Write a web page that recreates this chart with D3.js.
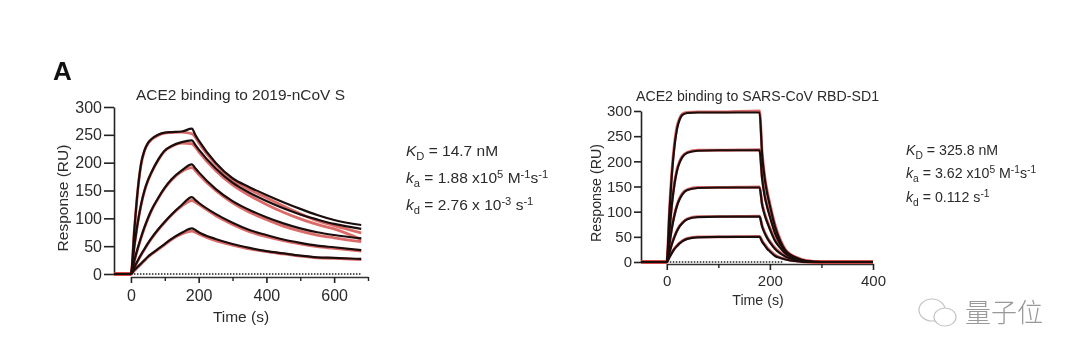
<!DOCTYPE html>
<html>
<head>
<meta charset="utf-8">
<script src="https://cdnjs.cloudflare.com/ajax/libs/d3/7.8.5/d3.min.js"></script>
<style>
  html, body { margin: 0; padding: 0; background: #fff; }
  svg { display: block; filter: blur(0.45px); }
  text { font-family: "Liberation Sans", Arial, sans-serif; fill: #2b2b2b; }
</style>
</head>
<body>
<svg id="chart" width="1080" height="359"></svg>
<script>
let width = 1080;
let height = 359;

// 2019-nCoV S panel
const sTimes = [-50, 0, 10, 20, 30, 40, 50, 60, 80, 100, 120, 150, 180, 190, 200, 250, 300, 350, 400, 450, 500, 550, 600, 680];
const sFit = [
  [0, 0, 79, 150, 198, 222, 235, 242, 250, 254, 255, 256, 261, 250, 240, 200, 172, 156, 142, 129, 117, 106, 97, 88],
  [0, 0, 50, 92, 125, 150, 168, 182, 205, 222, 230, 237, 240, 232, 224, 190, 164, 146, 131, 118, 107, 98, 90, 81],
  [0, 0, 24, 46, 66, 84, 100, 114, 136, 155, 170, 186, 197, 190, 183, 153, 131, 115, 102, 91, 82, 75, 70, 64],
  [0, 0, 12, 24, 35, 45, 55, 64, 80, 94, 107, 124, 138, 133, 128, 108, 92, 79, 70, 62, 56, 51, 48, 43],
  [0, 0, 7, 13, 19, 25, 31, 36, 45, 54, 63, 74, 82, 79, 75, 63, 54, 47, 41, 37, 33, 30, 29, 27],
];
const sObserved = [
  [0, 0, 78, 149, 197, 221, 234, 241, 249, 253, 254, 255, 252, 246, 236, 197, 169, 152, 137, 122, 108, 96, 87, 74],
  [0, 0, 49, 91, 124, 149, 167, 181, 204, 221, 229, 235, 234, 228, 220, 186, 160, 141, 125, 111, 99, 89, 81, 62],
  [0, 0, 23, 45, 65, 83, 99, 113, 135, 154, 169, 184, 191, 186, 179, 150, 128, 111, 98, 86, 77, 70, 65, 58],
  [0, 0, 11, 23, 34, 44, 54, 63, 79, 93, 106, 122, 132, 129, 125, 105, 89, 76, 67, 60, 54, 49, 46, 41],
  [0, 0, 6, 12, 18, 24, 30, 35, 44, 53, 62, 72, 77, 75, 72, 60, 52, 45, 40, 36, 32, 29, 28, 26],
];

// SARS-CoV RBD-SD1 panel
const rbdTimes = [-50, 0, 5, 10, 15, 20, 25, 30, 40, 60, 100, 180, 185, 190, 195, 200, 210, 220, 230, 240, 250, 270, 300, 400];
const rbdFit = [
  [0, 0, 95, 175, 230, 265, 283, 292, 296, 297, 297, 297, 212, 165, 135, 112, 70, 42, 23, 14, 9, 2, 0, 0],
  [0, 0, 60, 115, 155, 182, 198, 208, 217, 221, 222, 222, 165, 130, 108, 90, 57, 36, 21, 13, 8, 2, 0, 0],
  [0, 0, 35, 68, 93, 112, 125, 134, 143, 147, 148, 148, 113, 93, 78, 65, 42, 28, 17, 11, 7, 1, 0, 0],
  [0, 0, 18, 36, 50, 62, 71, 77, 85, 89, 90, 90, 70, 57, 47, 39, 26, 17, 11, 7, 4, 1, 0, 0],
  [0, 0, 9, 18, 26, 32, 37, 41, 46, 49, 50, 50, 40, 33, 26, 21, 12, 8, 5, 3, 2, 0, 0, 0],
];
const rbdObserved = [
  [0, 0, 100, 182, 236, 270, 286, 294, 297, 298, 298, 300, 218, 170, 140, 116, 74, 45, 25, 15, 10, 3, 0, 0],
  [0, 0, 62, 118, 158, 185, 200, 210, 218, 222, 222, 223, 168, 134, 112, 93, 60, 38, 23, 14, 9, 2, 0, 0],
  [0, 0, 36, 70, 95, 114, 127, 136, 144, 148, 148, 149, 116, 96, 81, 68, 45, 30, 19, 12, 8, 1, 0, 0],
  [0, 0, 19, 37, 51, 63, 72, 78, 86, 90, 90, 91, 72, 59, 49, 41, 28, 19, 12, 8, 4, 1, 0, 0],
  [0, 0, 10, 19, 27, 33, 38, 42, 47, 50, 50, 51, 42, 35, 28, 23, 14, 9, 6, 3, 2, 0, 0, 0],
];

const yTicks = [0, 50, 100, 150, 200, 250, 300];
const sMajorTicks = [0, 200, 400, 600];
const sMinorTicks = [100, 300, 500, 700];
const rbdMajorTicks = [0, 200, 400];
const rbdMinorTicks = [100, 300];

const sParams = [
  [["K", "i"], ["D", "sub"], [" = 14.7 nM", ""]],
  [["k", "i"], ["a", "sub"], [" = 1.88 x10", ""], ["5", "sup"], [" M", ""], ["-1", "sup"], ["s", ""], ["-1", "sup"]],
  [["k", "i"], ["d", "sub"], [" = 2.76 x 10", ""], ["-3", "sup"], [" s", ""], ["-1", "sup"]],
];
const rbdParams = [
  [["K", "i"], ["D", "sub"], [" = 325.8 nM", ""]],
  [["k", "i"], ["a", "sub"], [" = 3.62 x10", ""], ["5", "sup"], [" M", ""], ["-1", "sup"], ["s", ""], ["-1", "sup"]],
  [["k", "i"], ["d", "sub"], [" = 0.112 s", ""], ["-1", "sup"]],
];

let svg = d3.select("svg#chart");

svg.append("rect").attr("width", width).attr("height", height).attr("fill", "#fff");

svg
  .append("text")
  .attr("x", 53)
  .attr("y", 80)
  .style("font-size", "26px")
  .style("font-weight", "bold")
  .style("fill", "#111")
  .text("A");

drawPanel({
  times: sTimes,
  fit: sFit,
  observed: sObserved,
  xDomain: [-50, 700],
  xRange: [114, 368],
  yRange: [274, 107],
  majorTicks: sMajorTicks,
  minorTicks: sMinorTicks,
  tickFont: 16,
  labelFont: 15.5,
  yTickSize: 10,
  axisGap: 3,
  xPadding: 7,
  title: "ACE2 binding to 2019-nCoV S",
  titleFont: 15,
  titleX: 136,
  titleY: 100,
  titleLength: 209,
  xLabelX: 241,
  xLabelY: 322,
  yLabelX: 68,
  yLabelY: 198,
  dotEnd: 680,
});

drawPanel({
  times: rbdTimes,
  fit: rbdFit,
  observed: rbdObserved,
  xDomain: [-50, 400],
  xRange: [641, 873],
  yRange: [262, 111],
  majorTicks: rbdMajorTicks,
  minorTicks: rbdMinorTicks,
  tickFont: 15,
  labelFont: 14.2,
  yTickSize: 7,
  axisGap: 2,
  xPadding: 5,
  title: "ACE2 binding to SARS-CoV RBD-SD1",
  titleFont: 14.2,
  titleX: 636,
  titleY: 101,
  titleLength: 243,
  xLabelX: 758,
  xLabelY: 305,
  yLabelX: 601,
  yLabelY: 193,
  dotEnd: 225,
});

drawParams(sParams, 406, [156, 183, 210], 15.5);
drawParams(rbdParams, 906, [155, 178, 202], 14.2);
drawWatermark();

function drawPanel(p) {
  let x = d3.scaleLinear().domain(p.xDomain).range(p.xRange);
  let y = d3.scaleLinear().domain([0, 300]).range(p.yRange);
  let g = svg.append("g");

  let line = d3
    .line()
    .x((d) => x(d.t))
    .y((d) => y(d.v))
    .curve(d3.curveMonotoneX);

  let toPoints = (values) => values.map((v, i) => ({ t: p.times[i], v: v }));

  // solid x axis hangs just under the zero level, starting at t = 0
  let axisScale = d3.scaleLinear().domain([0, p.xDomain[1]]).range([x(0), x(p.xDomain[1])]);

  g.append("g")
    .attr("transform", `translate(0, ${y(0) + p.axisGap})`)
    .call(d3.axisBottom(axisScale).tickValues(p.majorTicks).tickSize(6).tickSizeOuter(0).tickPadding(p.xPadding))
    .call((a) => a.select(".domain").attr("stroke", "#333").attr("stroke-width", 1.5))
    .call((a) => a.selectAll("line").attr("stroke", "#222").attr("stroke-width", 1.6))
    .call((a) => a.selectAll("text").style("font-size", `${p.tickFont}px`).style("font-family", null));

  g.append("g")
    .attr("transform", `translate(0, ${y(0) + p.axisGap})`)
    .call(d3.axisBottom(axisScale).tickValues(p.minorTicks).tickSize(4).tickFormat(""))
    .call((a) => a.select(".domain").remove())
    .call((a) => a.selectAll("line").attr("stroke", "#222").attr("stroke-width", 1.4));

  g.append("g")
    .attr("transform", `translate(${p.xRange[0]}, 0)`)
    .call(d3.axisLeft(y).tickValues(yTicks).tickSize(p.yTickSize).tickSizeOuter(0).tickPadding(2))
    .call((a) => a.select(".domain").attr("stroke", "#222").attr("stroke-width", 1.6))
    .call((a) => a.selectAll("line").attr("stroke", "#222").attr("stroke-width", 1.6))
    .call((a) => a.selectAll("text").style("font-size", `${p.tickFont}px`).style("font-family", null));

  // dotted zero level
  g.append("line")
    .attr("x1", x(0))
    .attr("x2", x(p.dotEnd))
    .attr("y1", y(0))
    .attr("y2", y(0))
    .attr("stroke", "#555")
    .attr("stroke-width", 2)
    .attr("stroke-dasharray", "1.5 1.5");

  g.append("g")
    .selectAll("path")
    .data(p.observed)
    .join("path")
    .attr("d", (d) => line(toPoints(d)))
    .attr("fill", "none")
    .attr("stroke", "#cf3a35")
    .attr("stroke-width", 2.8)
    .attr("opacity", 0.75);

  g.append("g")
    .selectAll("path")
    .data(p.fit)
    .join("path")
    .attr("d", (d) => line(toPoints(d)))
    .attr("fill", "none")
    .attr("stroke", "#1c0d0d")
    .attr("stroke-width", 2.2);

  g.append("text")
    .attr("x", p.titleX)
    .attr("y", p.titleY)
    .attr("textLength", p.titleLength)
    .attr("lengthAdjust", "spacingAndGlyphs")
    .style("font-size", `${p.titleFont}px`)
    .text(p.title);

  g.append("text")
    .attr("x", p.xLabelX)
    .attr("y", p.xLabelY)
    .attr("text-anchor", "middle")
    .style("font-size", `${p.labelFont}px`)
    .text("Time (s)");

  g.append("text")
    .attr("transform", `translate(${p.yLabelX}, ${p.yLabelY}) rotate(-90)`)
    .attr("text-anchor", "middle")
    .style("font-size", `${p.labelFont}px`)
    .text("Response (RU)");
}

function drawParams(rows, x, ys, size) {
  rows.forEach((parts, r) => {
    let text = svg.append("text").attr("x", x).attr("y", ys[r]).style("font-size", `${size}px`);
    let shift = 0;
    parts.forEach(([str, kind]) => {
      let target = kind === "sub" ? 4 : kind === "sup" ? -5 : 0;
      text
        .append("tspan")
        .attr("dy", target - shift)
        .style("font-style", kind === "i" ? "italic" : "normal")
        .style("font-size", kind === "sub" || kind === "sup" ? `${size * 0.72}px` : `${size}px`)
        .text(str);
      shift = target;
    });
  });
}

function drawWatermark() {
  let mark = svg.append("g").attr("fill", "none").attr("stroke", "#c4c4c4").attr("stroke-width", 1.2);
  mark.append("ellipse").attr("cx", 932).attr("cy", 310).attr("rx", 13).attr("ry", 11);
  mark.append("ellipse").attr("cx", 945).attr("cy", 317).attr("rx", 11).attr("ry", 9).attr("fill", "#fff");
  svg
    .append("text")
    .attr("x", 965)
    .attr("y", 322)
    .style("font-family", '"Noto Sans CJK SC"')
    .style("font-size", "26px")
    .style("font-weight", 300)
    .style("fill", "#999")
    .text("量子位");
}
</script>
</body>
</html>
